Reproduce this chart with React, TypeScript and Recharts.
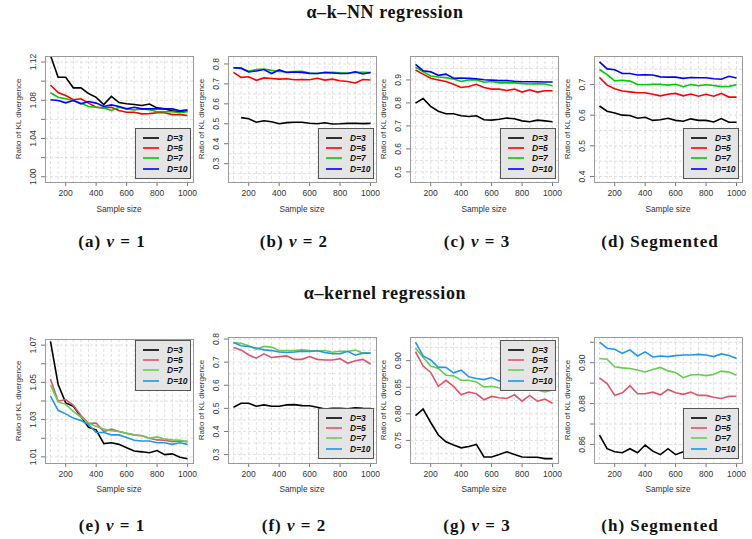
import React from 'react';
import { LineChart, Line, XAxis, YAxis, CartesianGrid, Legend } from 'recharts';

// ---------- data ----------
const sampleSizes = [100, 150, 200, 250, 300, 350, 400, 450, 500, 550, 600, 650, 700, 750, 800, 850, 900, 950, 1000];
const dimNames = ['D=3', 'D=5', 'D=7', 'D=10'];
const xTicks = [200, 400, 600, 800, 1000];
const xGrid = [100, 150, 200, 250, 300, 350, 400, 450, 500, 550, 600, 650, 700, 750, 800, 850, 900, 950, 1000];

// (a) k-NN, nu = 1
const knnNu1D3 = [1.127, 1.104, 1.104, 1.093, 1.093, 1.087, 1.083, 1.0755, 1.084, 1.0776, 1.0763, 1.0755, 1.0745, 1.076, 1.072, 1.071, 1.069, 1.068, 1.069];
const knnNu1D5 = [1.096, 1.088, 1.085, 1.0805, 1.0815, 1.077, 1.0727, 1.072, 1.0727, 1.0693, 1.0675, 1.0675, 1.0658, 1.066, 1.067, 1.067, 1.065, 1.065, 1.064];
const knnNu1D7 = [1.0878, 1.0832, 1.0815, 1.0797, 1.077, 1.0735, 1.0727, 1.072, 1.0693, 1.0727, 1.071, 1.07, 1.071, 1.07, 1.068, 1.068, 1.068, 1.067, 1.068];
const knnNu1D10 = [1.0805, 1.0797, 1.0773, 1.0797, 1.0763, 1.0787, 1.077, 1.0735, 1.0752, 1.0735, 1.071, 1.0727, 1.071, 1.071, 1.071, 1.071, 1.071, 1.069, 1.07];
// (b) k-NN, nu = 2
const knnNu2D3 = [null, 0.531, 0.525, 0.508, 0.515, 0.51, 0.5, 0.506, 0.508, 0.508, 0.503, 0.5, 0.505, 0.499, 0.5, 0.502, 0.503, 0.501, 0.502];
const knnNu2D5 = [0.758, 0.733, 0.736, 0.718, 0.73, 0.727, 0.724, 0.726, 0.721, 0.722, 0.721, 0.728, 0.719, 0.724, 0.716, 0.712, 0.705, 0.722, 0.72];
const knnNu2D7 = [0.78, 0.778, 0.763, 0.772, 0.775, 0.768, 0.762, 0.76, 0.762, 0.763, 0.755, 0.752, 0.758, 0.758, 0.756, 0.755, 0.758, 0.758, 0.757];
const knnNu2D10 = [0.781, 0.779, 0.76, 0.765, 0.772, 0.752, 0.77, 0.757, 0.76, 0.758, 0.753, 0.752, 0.757, 0.755, 0.752, 0.752, 0.761, 0.75, 0.757];
// (c) k-NN, nu = 3
const knnNu3D3 = [0.799, 0.819, 0.785, 0.764, 0.753, 0.753, 0.744, 0.741, 0.744, 0.727, 0.725, 0.729, 0.734, 0.731, 0.722, 0.718, 0.725, 0.722, 0.718];
const knnNu3D5 = [0.943, 0.925, 0.907, 0.9, 0.893, 0.881, 0.867, 0.871, 0.881, 0.867, 0.86, 0.86, 0.854, 0.86, 0.847, 0.857, 0.847, 0.853, 0.853];
const knnNu3D7 = [0.955, 0.936, 0.917, 0.913, 0.91, 0.904, 0.893, 0.9, 0.9, 0.89, 0.893, 0.887, 0.887, 0.887, 0.884, 0.882, 0.884, 0.882, 0.875];
const knnNu3D10 = [0.968, 0.94, 0.935, 0.92, 0.925, 0.907, 0.908, 0.907, 0.905, 0.901, 0.899, 0.897, 0.897, 0.894, 0.892, 0.892, 0.892, 0.891, 0.891];
// (d) k-NN, segmented
const knnSegD3 = [0.63, 0.613, 0.607, 0.6, 0.599, 0.59, 0.593, 0.583, 0.585, 0.59, 0.583, 0.58, 0.588, 0.583, 0.583, 0.578, 0.589, 0.577, 0.577];
const knnSegD5 = [0.723, 0.698, 0.686, 0.679, 0.676, 0.673, 0.673, 0.668, 0.663, 0.668, 0.671, 0.663, 0.669, 0.662, 0.668, 0.662, 0.671, 0.659, 0.659];
const knnSegD7 = [0.749, 0.732, 0.712, 0.714, 0.711, 0.7, 0.699, 0.701, 0.701, 0.698, 0.701, 0.693, 0.7, 0.696, 0.699, 0.697, 0.693, 0.694, 0.699];
const knnSegD10 = [0.774, 0.751, 0.748, 0.736, 0.736, 0.731, 0.732, 0.731, 0.725, 0.724, 0.724, 0.72, 0.723, 0.722, 0.722, 0.719, 0.717, 0.727, 0.721];
// (e) kernel, nu = 1
const kerNu1D3 = [1.072, 1.049, 1.039, 1.0372, 1.0317, 1.0258, 1.0245, 1.0171, 1.0176, 1.0167, 1.0149, 1.0131, 1.0127, 1.0122, 1.0134, 1.0112, 1.0116, 1.0098, 1.009];
const kerNu1D5 = [1.0518, 1.0399, 1.0408, 1.0377, 1.0322, 1.028, 1.0282, 1.0236, 1.0249, 1.0236, 1.0227, 1.0218, 1.0213, 1.02, 1.0191, 1.0189, 1.0182, 1.0185, 1.0182];
const kerNu1D7 = [1.0487, 1.0395, 1.0382, 1.0344, 1.0313, 1.028, 1.0264, 1.0249, 1.024, 1.0236, 1.0226, 1.0216, 1.0213, 1.02, 1.0207, 1.0195, 1.0191, 1.0189, 1.0182];
const kerNu1D10 = [1.0426, 1.035, 1.0331, 1.0308, 1.0295, 1.0273, 1.0231, 1.0231, 1.0218, 1.0218, 1.0204, 1.0189, 1.0185, 1.0185, 1.0176, 1.0176, 1.0167, 1.0176, 1.0167];
// (f) kernel, nu = 2
const kerNu2D3 = [0.505, 0.522, 0.522, 0.509, 0.515, 0.509, 0.509, 0.515, 0.516, 0.512, 0.511, 0.505, 0.497, 0.5, 0.5, 0.498, 0.502, 0.5, 0.499];
const kerNu2D5 = [0.763, 0.753, 0.731, 0.717, 0.736, 0.72, 0.724, 0.727, 0.712, 0.712, 0.724, 0.712, 0.709, 0.709, 0.715, 0.695, 0.706, 0.712, 0.692];
const kerNu2D7 = [0.785, 0.782, 0.771, 0.756, 0.768, 0.765, 0.75, 0.75, 0.75, 0.753, 0.75, 0.749, 0.75, 0.743, 0.747, 0.746, 0.752, 0.739, 0.739];
const kerNu2D10 = [0.785, 0.771, 0.768, 0.761, 0.753, 0.75, 0.744, 0.742, 0.744, 0.747, 0.746, 0.749, 0.742, 0.736, 0.736, 0.747, 0.73, 0.739, 0.739];
// (g) kernel, nu = 3
const kerNu3D3 = [0.7965, 0.809, 0.7837, 0.7602, 0.7475, 0.7412, 0.736, 0.7386, 0.7424, 0.7189, 0.7189, 0.7234, 0.7285, 0.7234, 0.7189, 0.7183, 0.7183, 0.7158, 0.7158];
const kerNu3D5 = [0.9172, 0.8898, 0.8778, 0.8517, 0.8631, 0.8517, 0.8358, 0.8409, 0.8377, 0.8263, 0.8327, 0.8301, 0.8288, 0.8358, 0.8238, 0.8346, 0.8238, 0.8276, 0.82];
const kerNu3D7 = [0.9235, 0.9064, 0.8898, 0.8854, 0.8727, 0.8714, 0.8631, 0.8631, 0.86, 0.8504, 0.8517, 0.8485, 0.848, 0.847, 0.846, 0.846, 0.845, 0.841, 0.845];
const kerNu3D10 = [0.935, 0.9089, 0.9013, 0.8873, 0.8873, 0.8771, 0.8822, 0.8695, 0.8663, 0.8644, 0.8682, 0.8619, 0.86, 0.858, 0.857, 0.856, 0.855, 0.854, 0.853];
// (h) kernel, segmented
const kerSegD3 = [0.8646, 0.8579, 0.8564, 0.8559, 0.8579, 0.8559, 0.8597, 0.8567, 0.855, 0.8579, 0.855, 0.8564, 0.857, 0.856, 0.857, 0.856, 0.857, 0.856, 0.857];
const kerSegD5 = [0.8926, 0.8898, 0.884, 0.8853, 0.8888, 0.8848, 0.8848, 0.8856, 0.8843, 0.8869, 0.8853, 0.8845, 0.8856, 0.884, 0.884, 0.8831, 0.8825, 0.8836, 0.8836];
const kerSegD7 = [0.9021, 0.9017, 0.898, 0.8975, 0.8972, 0.8964, 0.8955, 0.8967, 0.8977, 0.896, 0.8952, 0.8927, 0.894, 0.8942, 0.8937, 0.8942, 0.8959, 0.8954, 0.8939];
const kerSegD10 = [0.9101, 0.9071, 0.9066, 0.9046, 0.9063, 0.9033, 0.9053, 0.9028, 0.9033, 0.903, 0.9035, 0.9038, 0.9038, 0.9041, 0.9038, 0.903, 0.9043, 0.9035, 0.9021];

// y ticks and labels
const yTicksA = [1.0, 1.02, 1.04, 1.06, 1.08, 1.1, 1.12];
const yLabelsA = ['1.00', '', '1.04', '', '1.08', '', '1.12'];
const yTicksB = [0.3, 0.4, 0.5, 0.6, 0.7, 0.8];
const yLabelsB = ['0.3', '0.4', '0.5', '0.6', '0.7', '0.8'];
const yTicksC = [0.5, 0.6, 0.7, 0.8, 0.9];
const yLabelsC = ['0.5', '0.6', '0.7', '0.8', '0.9'];
const yTicksD = [0.4, 0.5, 0.6, 0.7];
const yLabelsD = ['0.4', '0.5', '0.6', '0.7'];
const yTicksE = [1.01, 1.02, 1.03, 1.04, 1.05, 1.06, 1.07];
const yLabelsE = ['1.01', '', '1.03', '', '1.05', '', '1.07'];
const yTicksF = [0.3, 0.4, 0.5, 0.6, 0.7, 0.8];
const yLabelsF = ['0.3', '0.4', '0.5', '0.6', '0.7', '0.8'];
const yTicksG = [0.75, 0.8, 0.85, 0.9];
const yLabelsG = ['0.75', '0.80', '0.85', '0.90'];
const yTicksH = [0.86, 0.87, 0.88, 0.89, 0.9, 0.91];
const yLabelsH = ['0.86', '', '0.88', '', '0.90', ''];

const yGridA = [1.0, 1.02, 1.04, 1.06, 1.08, 1.1, 1.12];
const yGridB = [0.25, 0.3, 0.35, 0.4, 0.45, 0.5, 0.55, 0.6, 0.65, 0.7, 0.75, 0.8];
const yGridC = [0.5, 0.55, 0.6, 0.65, 0.7, 0.75, 0.8, 0.85, 0.9, 0.95];
const yGridD = [0.4, 0.45, 0.5, 0.55, 0.6, 0.65, 0.7, 0.75];
const yGridE = [1.01, 1.02, 1.03, 1.04, 1.05, 1.06, 1.07];
const yGridF = [0.3, 0.35, 0.4, 0.45, 0.5, 0.55, 0.6, 0.65, 0.7, 0.75, 0.8];
const yGridG = [0.725, 0.75, 0.775, 0.8, 0.825, 0.85, 0.875, 0.9, 0.925];
const yGridH = [0.86, 0.87, 0.88, 0.89, 0.9, 0.91];

const colorsKnn = ['#000000', '#ff0000', '#00cd00', '#0000ff'];
const colorsKernel = ['#000000', '#DF536B', '#61D04F', '#2297E6'];

// ---------- layout ----------
const FONT_SANS = '"Liberation Sans", Arial, Helvetica, sans-serif';
const FONT_SERIF = '"Liberation Serif", "Times New Roman", serif';
const BOX_W = 148;
const Y_AXIS_W = 45;
const TOP_PAD = 5;
const X_AXIS_H = 40;
const X_DOMAIN: [number, number] = [64, 1036];

type Panel = {
  key: string;
  boxLeft: number;
  boxTop: number;
  boxH: number;
  yDomain: [number, number];
  yTicks: number[];
  yLabels: string[];
  yGrid: number[];
  series: (number | null)[][];
  colors: string[];
  legend: [number, number];
  captionX: number;
  captionY: number;
  letter: string;
  nu: string | null;
  xTickMargin: number;
  xTitleY: number;
};

const panels: Panel[] = [
  { key: 'a', boxLeft: 45, boxTop: 56, boxH: 126, yDomain: [0.9945, 1.1263], yTicks: yTicksA, yLabels: yLabelsA, yGrid: yGridA, series: [knnNu1D3, knnNu1D5, knnNu1D7, knnNu1D10], colors: colorsKnn, legend: [135, 128], captionX: 112, captionY: 247, letter: '(a)', nu: '1', xTickMargin: 4, xTitleY: 209 },
  { key: 'b', boxLeft: 228, boxTop: 56, boxH: 126, yDomain: [0.208, 0.84], yTicks: yTicksB, yLabels: yLabelsB, yGrid: yGridB, series: [knnNu2D3, knnNu2D5, knnNu2D7, knnNu2D10], colors: colorsKnn, legend: [318, 128], captionX: 294, captionY: 247, letter: '(b)', nu: '2', xTickMargin: 4, xTitleY: 209 },
  { key: 'c', boxLeft: 410, boxTop: 56, boxH: 126, yDomain: [0.456, 1.004], yTicks: yTicksC, yLabels: yLabelsC, yGrid: yGridC, series: [knnNu3D3, knnNu3D5, knnNu3D7, knnNu3D10], colors: colorsKnn, legend: [500, 128], captionX: 477, captionY: 247, letter: '(c)', nu: '3', xTickMargin: 4, xTitleY: 209 },
  { key: 'd', boxLeft: 594, boxTop: 56, boxH: 126, yDomain: [0.382, 0.793], yTicks: yTicksD, yLabels: yLabelsD, yGrid: yGridD, series: [knnSegD3, knnSegD5, knnSegD7, knnSegD10], colors: colorsKnn, legend: [683, 128], captionX: 660, captionY: 247, letter: '(d)', nu: null, xTickMargin: 4, xTitleY: 209 },
  { key: 'e', boxLeft: 45, boxTop: 339, boxH: 124, yDomain: [1.0067, 1.0733], yTicks: yTicksE, yLabels: yLabelsE, yGrid: yGridE, series: [kerNu1D3, kerNu1D5, kerNu1D7, kerNu1D10], colors: colorsKernel, legend: [135, 340], captionX: 112, captionY: 530.5, letter: '(e)', nu: '1', xTickMargin: 4, xTitleY: 489 },
  { key: 'f', boxLeft: 228, boxTop: 337, boxH: 126, yDomain: [0.2635, 0.8088], yTicks: yTicksF, yLabels: yLabelsF, yGrid: yGridF, series: [kerNu2D3, kerNu2D5, kerNu2D7, kerNu2D10], colors: colorsKernel, legend: [318, 408], captionX: 294, captionY: 530.5, letter: '(f)', nu: '2', xTickMargin: 4, xTitleY: 489 },
  { key: 'g', boxLeft: 410, boxTop: 337, boxH: 126, yDomain: [0.7075, 0.9445], yTicks: yTicksG, yLabels: yLabelsG, yGrid: yGridG, series: [kerNu3D3, kerNu3D5, kerNu3D7, kerNu3D10], colors: colorsKernel, legend: [500, 340], captionX: 477, captionY: 530.5, letter: '(g)', nu: '3', xTickMargin: 4, xTitleY: 489 },
  { key: 'h', boxLeft: 594, boxTop: 337, boxH: 126, yDomain: [0.8509, 0.9126], yTicks: yTicksH, yLabels: yLabelsH, yGrid: yGridH, series: [kerSegD3, kerSegD5, kerSegD7, kerSegD10], colors: colorsKernel, legend: [683, 408], captionX: 660, captionY: 530.5, letter: '(h)', nu: null, xTickMargin: 4, xTitleY: 489 },
];

const seriesKeys = ['d3', 'd5', 'd7', 'd10'];

function buildRows(series: (number | null)[][]) {
  return sampleSizes.map((n, i) => {
    const row: Record<string, number | null> = { n };
    series.forEach((s, j) => {
      row[seriesKeys[j]] = s[i];
    });
    return row;
  });
}

function LegendBox({ colors }: { colors: string[] }) {
  return (
    <div
      style={{
        width: 56,
        height: 51,
        boxSizing: 'border-box',
        background: '#e5e5e5',
        border: '1px solid #555',
        position: 'relative',
      }}
    >
      {dimNames.map((name, i) => (
        <div key={name} style={{ position: 'absolute', left: 0, top: 3.5 + i * 10.4, height: 10, width: '100%' }}>
          <svg width={16} height={10} style={{ position: 'absolute', left: 7, top: 0 }}>
            <line x1={0} y1={5} x2={16} y2={5} stroke={colors[i]} strokeWidth={1.6} />
          </svg>
          <span
            style={{
              position: 'absolute',
              left: 31,
              top: 0,
              lineHeight: '10px',
              fontSize: 8.5,
              fontWeight: 'bold',
              fontStyle: 'italic',
              fontFamily: FONT_SANS,
              color: '#111',
              whiteSpace: 'nowrap',
            }}
          >
            {name}
          </span>
        </div>
      ))}
    </div>
  );
}

function PanelChart({ p }: { p: Panel }) {
  const data = buildRows(p.series);
  const chartW = Y_AXIS_W + BOX_W + 10;
  const chartH = TOP_PAD + p.boxH + X_AXIS_H;
  const chartLeft = p.boxLeft - Y_AXIS_W;
  const chartTop = p.boxTop - TOP_PAD;
  const labelX = Y_AXIS_W - 12;
  const renderYTick = (props: any) => {
    const { y, payload } = props;
    const idx = p.yTicks.findIndex((t) => Math.abs(t - payload.value) < 1e-9);
    const label = idx >= 0 ? p.yLabels[idx] : '';
    if (!label) return <g />;
    return (
      <text
        x={labelX}
        y={y}
        transform={`rotate(-90 ${labelX} ${y})`}
        textAnchor="middle"
        dominantBaseline="central"
        fontSize={8.5}
        fontFamily={FONT_SANS}
        fill="#333"
      >
        {label}
      </text>
    );
  };
  return (
    <div style={{ position: 'absolute', left: chartLeft, top: chartTop, width: chartW, height: chartH }}>
      <LineChart width={chartW} height={chartH} data={data} margin={{ top: TOP_PAD, right: 10, bottom: 0, left: 0 }}>
        <CartesianGrid
          stroke="#e0e0e0"
          strokeDasharray="3 2"
          horizontalValues={p.yGrid}
          verticalValues={xGrid}
        />
        <XAxis
          dataKey="n"
          type="number"
          domain={X_DOMAIN}
          allowDataOverflow
          ticks={xTicks}
          interval={0}
          tickSize={4}
          tickMargin={p.xTickMargin}
          axisLine={false}
          tickLine={{ stroke: '#777' }}
          tick={{ fontSize: 8.5, fill: '#333', fontFamily: FONT_SANS }}
          height={X_AXIS_H}
        />
        <YAxis
          type="number"
          domain={p.yDomain}
          allowDataOverflow
          ticks={p.yTicks}
          interval={0}
          tickSize={4}
          axisLine={false}
          tickLine={{ stroke: '#777' }}
          tick={renderYTick}
          width={Y_AXIS_W}
        />
        {seriesKeys.map((k, j) => (
          <Line
            key={k}
            dataKey={k}
            name={dimNames[j]}
            type="linear"
            stroke={p.colors[j]}
            strokeWidth={1.6}
            dot={false}
            activeDot={false}
            isAnimationActive={false}
            connectNulls={false}
          />
        ))}
        <Legend
          layout="vertical"
          align="center"
          verticalAlign="middle"
          wrapperStyle={{ left: p.legend[0] - chartLeft, top: p.legend[1] - chartTop, width: 56, height: 51 }}
          content={() => <LegendBox colors={p.colors} />}
        />
      </LineChart>
    </div>
  );
}

export default function App() {
  return (
    <div style={{ position: 'absolute', left: 0, top: 0, width: 752, height: 539, background: '#fff', overflow: 'hidden' }}>
      <svg width={752} height={539} style={{ position: 'absolute', left: 0, top: 0 }}>
        <text x={385} y={18} textAnchor="middle" fontFamily={FONT_SERIF} fontSize={18} fontWeight="bold" letterSpacing={0.6} fill="#111">
          α–k–NN regression
        </text>
        <text x={385} y={298.5} textAnchor="middle" fontFamily={FONT_SERIF} fontSize={18} fontWeight="bold" letterSpacing={0.6} fill="#111">
          α–kernel regression
        </text>
        {panels.map((p) => (
          <g key={p.key}>
            <text
              x={p.boxLeft - 27}
              y={p.boxTop + p.boxH / 2}
              transform={`rotate(-90 ${p.boxLeft - 27} ${p.boxTop + p.boxH / 2})`}
              textAnchor="middle"
              dominantBaseline="central"
              fontFamily={FONT_SANS}
              fontSize={8}
              fill="#333"
            >
              Ratio of KL divergence
            </text>
            <text
              x={p.boxLeft + BOX_W / 2}
              y={p.xTitleY}
              textAnchor="middle"
              dominantBaseline="central"
              fontFamily={FONT_SANS}
              fontSize={8.3}
              fill="#333"
            >
              Sample size
            </text>
            <text
              x={p.captionX}
              y={p.captionY}
              textAnchor="middle"
              fontFamily={FONT_SERIF}
              fontSize={17}
              fontWeight="bold"
              letterSpacing={1}
              fill="#111"
            >
              {p.nu !== null ? (
                <>
                  {p.letter + ' '}
                  <tspan fontStyle="italic">ν</tspan>
                  {' = ' + p.nu}
                </>
              ) : (
                p.letter + ' Segmented'
              )}
            </text>
          </g>
        ))}
      </svg>
      {panels.map((p) => (
        <PanelChart key={p.key} p={p} />
      ))}
      {panels.map((p) => (
        <div
          key={'box' + p.key}
          style={{
            position: 'absolute',
            left: p.boxLeft,
            top: p.boxTop,
            width: BOX_W + 1,
            height: p.boxH + 1,
            boxSizing: 'border-box',
            border: '1px solid #9a9a9a',
            pointerEvents: 'none',
          }}
        />
      ))}
    </div>
  );
}
